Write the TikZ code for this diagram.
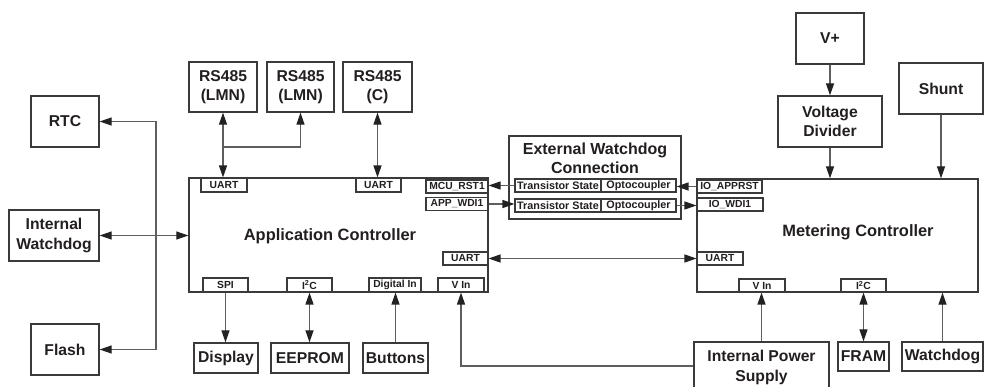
\documentclass[tikz,border=0pt]{standalone}
\usepackage{fontspec}
\setmainfont{Liberation Sans}
\usetikzlibrary{arrows.meta}
\definecolor{linec}{HTML}{3A3A3A}
\definecolor{wirec}{HTML}{5E5E5E}
\definecolor{tipc}{HTML}{222222}
\definecolor{txtc}{HTML}{231F20}
\begin{document}
\begin{tikzpicture}[x=1pt,y=-1pt,
  blk/.style={draw=linec, line width=1.3pt, fill=white, inner sep=0pt, align=center, text=txtc,
    font=\fontsize{15.7}{19.5}\selectfont\bfseries},
  ctrl/.style={draw=linec, line width=1.3pt, fill=white, inner sep=0pt},
  lbl/.style={inner sep=0pt, text=txtc, align=center, font=\fontsize{16.4}{19}\selectfont\bfseries},
  port/.style={draw=linec, line width=1.1pt, fill=white, inner sep=0pt, text=txtc,
    font=\fontsize{10.3}{12}\selectfont\bfseries, minimum height=13pt},
  cell/.style={port, font=\fontsize{10.8}{12}\selectfont\bfseries},
  wire/.style={draw=wirec, line width=1.2pt},
  arr/.style={wire, -{Triangle[length=12pt,width=8pt,color=tipc]}},
  biarr/.style={wire, {Triangle[length=12pt,width=8pt,color=tipc]}-{Triangle[length=12pt,width=8pt,color=tipc]}}
]
\useasboundingbox (0,0) rectangle (984,387);
\clip (0,0) rectangle (984,387);

% left column
\node[blk, minimum width=68pt, minimum height=51pt] (rtc) at (65,121.5) {RTC};
\node[blk, minimum width=90pt, minimum height=51pt] (iwd) at (54,235.5) {Internal\\Watchdog};
\node[blk, minimum width=68pt, minimum height=51pt] (flash) at (65,349.5) {Flash};

% RS485 boxes
\node[blk, minimum width=68pt, minimum height=50pt] (rsa) at (223,87) {RS485\\(LMN)};
\node[blk, minimum width=67pt, minimum height=50pt] (rsb) at (300.5,87) {RS485\\(LMN)};
\node[blk, minimum width=69pt, minimum height=50pt] (rsc) at (377.5,87) {RS485\\(C)};

% Application controller
\node[ctrl, minimum width=299pt, minimum height=114pt] (app) at (338.5,235) {};
\node[lbl] (appl) at (330,236) {Application Controller};
\node[port, minimum width=46pt, minimum height=14pt] (ua1) at (224,185) {UART};
\node[port, minimum width=45pt, minimum height=14pt] (ua2) at (378.5,185) {UART};
\node[port, minimum width=62pt] (mcu) at (457,186.5) {MCU\_RST1};
\node[port, minimum width=62pt] (wdi) at (457,204) {APP\_WDI1};
\node[port, minimum width=45pt] (uar) at (465.5,258.5) {UART};
\node[port, minimum width=45pt, minimum height=14pt] (spi) at (225.5,285) {SPI};
\node[port, minimum width=45pt, minimum height=14pt] (i2ca) at (309.5,285) {I\textsuperscript{2}C};
\node[port, minimum width=52pt, minimum height=14pt] (din) at (395,285) {Digital In};
\node[port, minimum width=46pt, minimum height=14pt] (vina) at (461,285) {V In};

% bottom peripherals of app
\node[blk, minimum width=64pt, minimum height=30pt] (disp) at (226,358) {Display};
\node[blk, minimum width=78pt, minimum height=30pt] (eep) at (310,358) {EEPROM};
\node[blk, minimum width=65pt, minimum height=30pt] (btn) at (395.5,358) {Buttons};

% External watchdog connection
\node[ctrl, minimum width=172pt, minimum height=83pt] (ext) at (595,177.5) {};
\node[lbl, font=\fontsize{16}{19}\selectfont\bfseries] (extl) at (595,158.5) {External Watchdog\\Connection};
\node[cell, minimum width=86pt] (ts1) at (558,185.5) {Transistor State};
\node[cell, minimum width=75pt] (oc1) at (638.5,185.5) {Optocoupler};
\node[cell, minimum width=86pt] (ts2) at (558,205.5) {Transistor State};
\node[cell, minimum width=75pt] (oc2) at (638.5,205.5) {Optocoupler};

% right top
\node[blk, minimum width=68pt, minimum height=51pt] (vp) at (830,38.5) {V+};
\node[blk, minimum width=104pt, minimum height=51pt] (vd) at (830,121.5) {Voltage\\Divider};
\node[blk, minimum width=84pt, minimum height=51pt] (shunt) at (941,88.5) {Shunt};

% Metering controller
\node[ctrl, minimum width=281pt, minimum height=113pt] (met) at (837.5,235.5) {};
\node[lbl] (metl) at (858,232) {Metering Controller};
\node[port, minimum width=65pt] (ioa) at (729.5,186.5) {IO\_APPRST};
\node[port, minimum width=66pt] (iow) at (730,204.5) {IO\_WDI1};
\node[port, minimum width=46pt] (uam) at (720,258.5) {UART};
\node[port, minimum width=46pt] (vinm) at (762,285.5) {V In};
\node[port, minimum width=45pt] (i2cm) at (863.5,285.5) {I\textsuperscript{2}C};

% bottom right
\node[blk, minimum width=135pt, minimum height=51pt] (ips) at (761.5,367.5) {Internal Power\\Supply};
\node[blk, minimum width=51pt, minimum height=29pt] (fram) at (863.5,356.5) {FRAM};
\node[blk, minimum width=81pt, minimum height=29pt] (wdg) at (942.5,356.5) {Watchdog};

% connectors: left bus
\coordinate (bus) at (156,235.5);
\draw[biarr] (iwd.east) -- (iwd.east -| app.west);
\draw[arr] (bus) |- (rtc.east);
\draw[arr] (bus) |- (flash.east);

% RS485
\coordinate (j) at (223,147);
\draw[biarr] (rsa.south) -- (rsa.south |- ua1.north);
\draw[arr] (j) -| (rsb.south);
\draw[biarr] (rsc.south) -- (rsc.south |- ua2.north);

% app bottom
\draw[arr] (spi.south) -- (spi.south |- disp.north);
\draw[biarr] (i2ca.south) -- (i2ca.south |- eep.north);
\draw[arr] (btn.north) -- (btn.north |- din.south);
\draw[arr] ([yshift=1.5pt]ips.west) -| (vina.south);

% UART link
\draw[biarr] (uar.east) -- (uar.east -| uam.west);

% watchdog links
\draw[arr] (ts1.west) -- (ts1.west -| mcu.east);
\draw[arr] (ioa.west) -- (ioa.west -| oc1.east);
\draw[arr] (wdi.east) -- (wdi.east -| ts2.west);
\draw[arr] (oc2.east) -- (oc2.east -| iow.west);

% metering connectors
\draw[arr] (vp.south) -- (vd.north);
\draw[arr] (vd.south) -- (vd.south |- met.north);
\draw[arr] (shunt.south) -- (shunt.south |- met.north);
\draw[arr] (ips.north) -- (ips.north |- vinm.south);
\draw[biarr] (i2cm.south) -- (i2cm.south |- fram.north);
\draw[arr] (wdg.north) -- (wdg.north |- met.south);
\end{tikzpicture}
\end{document}
